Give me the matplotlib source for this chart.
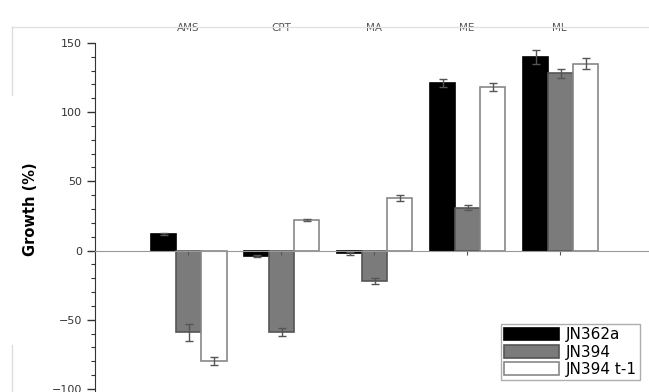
import numpy as np
import matplotlib.pyplot as plt
from matplotlib.lines import Line2D
from matplotlib.ticker import FixedLocator

categories = ["AMS", "CPT", "MA", "ME", "ML"]
series = ["JN362a", "JN394", "JN394 t-1"]
jn362a = [12, -4, -2, 121, 140]
jn362a_err = [1, 1, 1, 3, 5]
jn394 = [-59, -59, -22, 31, 128]
jn394_err = [6, 3, 2, 2, 3]
jn394t = [-80, 22, 38, 118, 135]
jn394t_err = [3, 1, 2, 3, 4]

fig = plt.figure(figsize=(6.49, 3.92), dpi=100)
ax = fig.add_axes([95 / 649, 0.0, 1 - 95 / 649, 1 - 27 / 392])

x = np.arange(len(categories))
w = 0.27
colors = ["#000000", "#7b7b7b", "#ffffff"]
edges = ["#000000", "#555555", "#888888"]
vals = [jn362a, jn394, jn394t]
errs = [jn362a_err, jn394_err, jn394t_err]
for i in range(3):
    ax.bar(x + (i - 1) * w + 0.01, vals[i], w, yerr=errs[i], color=colors[i],
           edgecolor=edges[i], linewidth=1.2, label=series[i],
           error_kw=dict(ecolor="#555555", elinewidth=1, capsize=3, capthick=1))

ax.set_xlim(-1.0, 4.96)
ax.set_ylim(-102.2, 161.5)
ax.set_yticks([150, 100, 50, 0, -50, -100])
ax.yaxis.set_minor_locator(FixedLocator(np.arange(-100, 151, 10)))
ax.tick_params(axis="y", which="major", length=6, width=1, labelsize=8, colors="#333333")
ax.tick_params(axis="y", which="minor", length=3, width=0.8, colors="#333333")

ax.set_xticks(x)
ax.set_xticklabels(categories)
ax.tick_params(axis="x", bottom=True, top=False, labelbottom=False, labeltop=True,
               labelsize=7.5, colors="#555555", length=3, pad=-7)

ax.spines["bottom"].set_position(("data", 0))
ax.spines["bottom"].set_color("#999999")
ax.spines["top"].set_visible(False)
ax.spines["right"].set_visible(False)
ax.spines["left"].set_color("#333333")
ax.spines["left"].set_bounds(-102.2, 150)

ax.set_ylabel("Growth (%)", fontsize=10.5, fontweight="bold", labelpad=10)

leg = ax.legend(loc="lower right", bbox_to_anchor=(0.998, 0.012), fontsize=11,
                frameon=True, fancybox=False, edgecolor="#999999",
                handlelength=3.6, handleheight=0.9, borderpad=0.2,
                labelspacing=0.15, handletextpad=0.5)

# faint frame remnants from the scanned source
fig.add_artist(Line2D([12 / 649, 1], [1 - 27 / 392] * 2, color="#e2e2e2", lw=1))
fig.add_artist(Line2D([12 / 649] * 2, [1 - 27 / 392, 1 - 95 / 392], color="#dddddd", lw=1))
fig.add_artist(Line2D([12 / 649] * 2, [0, 1 - 345 / 392], color="#dddddd", lw=1))

fig.savefig("out.png", dpi=100)
